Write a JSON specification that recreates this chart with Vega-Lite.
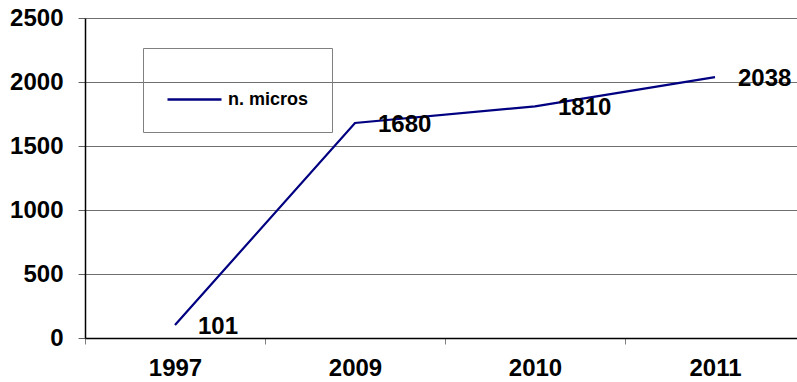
{
  "$schema": "https://vega.github.io/schema/vega-lite/v6.json",
  "autosize": "none",
  "width": 712,
  "height": 320,
  "padding": {"left": 85, "top": 18, "right": 0, "bottom": 44},
  "background": "white",
  "config": {
    "view": {"stroke": null},
    "font": "Liberation Sans"
  },
  "data": {
    "values": [
      {"year": "1997", "value": 101, "series": "n. micros"},
      {"year": "2009", "value": 1680, "series": "n. micros"},
      {"year": "2010", "value": 1810, "series": "n. micros"},
      {"year": "2011", "value": 2038, "series": "n. micros"}
    ]
  },
  "encoding": {
    "x": {
      "field": "year",
      "type": "nominal",
      "sort": null,
      "scale": {"type": "band", "range": [0, 720], "paddingInner": 0, "paddingOuter": 0},
      "axis": {
        "title": null,
        "labelAngle": 0,
        "labelFont": "Liberation Sans",
        "labelFontWeight": "bold",
        "labelFontSize": 24,
        "labelColor": "black",
        "labelPadding": 12,
        "tickBand": "extent",
        "tickSize": 6,
        "tickColor": "#808080",
        "domainColor": "black",
        "domainWidth": 1.5,
        "grid": false
      }
    },
    "y": {
      "field": "value",
      "type": "quantitative",
      "scale": {"domain": [0, 2500], "nice": false},
      "axis": {
        "title": null,
        "values": [0, 500, 1000, 1500, 2000, 2500],
        "format": "d",
        "labelFont": "Liberation Sans",
        "labelFontWeight": "bold",
        "labelFontSize": 24,
        "labelColor": "black",
        "labelPadding": 15,
        "tickSize": 7,
        "tickColor": "#606060",
        "domainColor": "black",
        "domainWidth": 1.5,
        "grid": true,
        "gridColor": "#707070",
        "gridWidth": 1,
        "gridOpacity": 1
      }
    }
  },
  "layer": [
    {
      "mark": {"type": "line", "strokeWidth": 2.2},
      "encoding": {
        "color": {
          "field": "series",
          "type": "nominal",
          "scale": {"range": ["#000080"]},
          "legend": {
            "title": null,
            "orient": "none",
            "legendX": 58,
            "legendY": 30,
            "padding": 23,
            "strokeColor": "#808080",
            "fillColor": null,
            "symbolType": "stroke",
            "symbolSize": 2916,
            "symbolStrokeWidth": 2.5,
            "labelFont": "Liberation Sans",
            "labelFontWeight": "bold",
            "labelFontSize": 18,
            "labelColor": "black",
            "labelOffset": 5
          }
        }
      }
    },
    {
      "mark": {
        "type": "text",
        "align": "left",
        "baseline": "middle",
        "dx": 23,
        "dy": 2,
        "font": "Liberation Sans",
        "fontWeight": "bold",
        "fontSize": 24,
        "color": "black"
      },
      "encoding": {
        "text": {"field": "value", "type": "quantitative", "format": "d"}
      }
    }
  ]
}
